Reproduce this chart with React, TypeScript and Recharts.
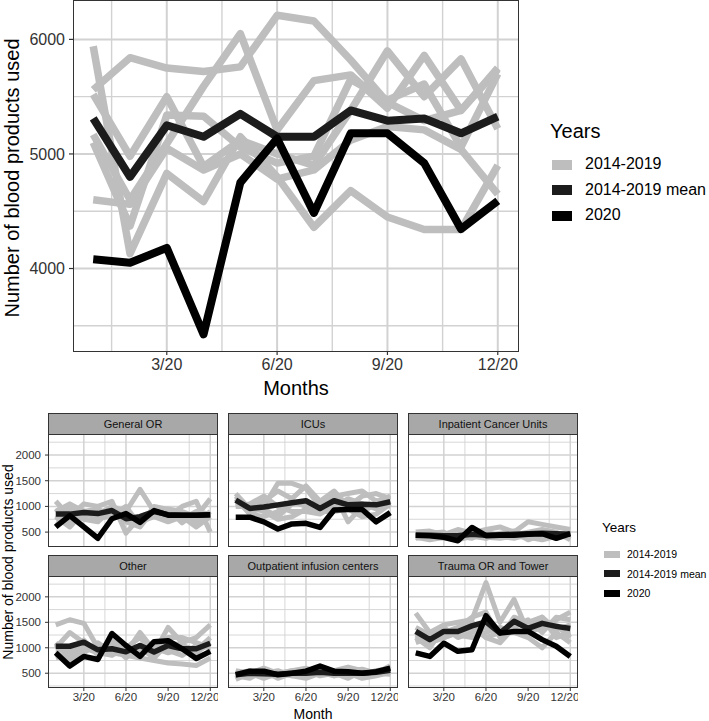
import { LineChart, Line, XAxis, YAxis, CartesianGrid } from "recharts";

// months of 2020 (x positions) and axis ticks
const months = [1, 2, 3, 4, 5, 6, 7, 8, 9, 10, 11, 12];
const monthTicks = [3, 6, 9, 12];
const minorMonthTicks = [1.5, 4.5, 7.5, 10.5];
const pastYears = ["2014", "2015", "2016", "2017", "2018", "2019"];
const legendLabels = ["2014-2019", "2014-2019 mean", "2020"];

// ---- top panel: all locations ----
const total2014 = [5940, 4130, 4830, 4585, 5150, 4800, 4360, 4680, 4450, 4340, 4340, 4900];
const total2015 = [5560, 5840, 5750, 5720, 5760, 6210, 6160, 5820, 5450, 5290, 5380, 5740];
const total2016 = [5520, 4980, 5500, 4890, 5120, 5000, 4900, 5380, 5900, 5500, 5830, 5220];
const total2017 = [5170, 4600, 5090, 5590, 6050, 5210, 5640, 5690, 5400, 5860, 5380, 5750];
const total2018 = [5100, 4370, 5340, 5330, 5060, 4920, 4980, 5650, 5470, 5610, 5060, 5700];
const total2019 = [4600, 4560, 5050, 4860, 5000, 4780, 4860, 5120, 5240, 5210, 5040, 4650];
const totalMean = [5310, 4800, 5250, 5150, 5350, 5150, 5150, 5380, 5290, 5310, 5180, 5325];
const total2020 = [4080, 4050, 4180, 3425, 4750, 5135, 4485, 5180, 5180, 4920, 4345, 4590];
const totalYTicks = [4000, 5000, 6000];
const totalYMinor = [3500, 4500, 5500];

// ---- facets ----
const generalORYears = [
  [1100, 800, 1050, 1000, 1100, 480, 800, 900, 950, 900, 800, 1150],
  [900, 1050, 900, 850, 1000, 900, 1330, 900, 800, 1000, 1100, 500],
  [800, 600, 900, 950, 800, 800, 750, 850, 900, 750, 900, 850],
  [750, 900, 750, 700, 950, 700, 600, 950, 750, 850, 700, 900],
  [950, 700, 800, 900, 850, 750, 700, 800, 700, 800, 600, 800],
  [600, 1000, 880, 760, 820, 1000, 620, 1000, 940, 680, 880, 840],
];
const generalORMean = [850, 850, 880, 860, 920, 760, 800, 900, 840, 830, 830, 840];
const generalOR2020 = [600, 820, 600, 380, 760, 860, 690, 920, 830, 830, 830, 840];

const icuYears = [
  [1250, 950, 1000, 1450, 1450, 1350, 1000, 1200, 1250, 1300, 1100, 1200],
  [1100, 1000, 1100, 1300, 1150, 1400, 1100, 1300, 1000, 1200, 1250, 1150],
  [1200, 900, 950, 800, 1050, 1050, 900, 1050, 1100, 900, 1050, 1000],
  [1000, 1050, 1200, 1000, 900, 900, 850, 1000, 1150, 1050, 950, 1100],
  [1150, 850, 800, 900, 1100, 1000, 1050, 1250, 700, 1000, 1000, 1050],
  [1000, 1000, 900, 750, 800, 950, 900, 900, 950, 800, 850, 1050],
];
const icuMean = [1120, 960, 990, 1030, 1070, 1110, 960, 1110, 1030, 1040, 1030, 1090];
const icu2020 = [790, 790, 700, 560, 660, 670, 590, 930, 940, 940, 700, 880];

const cancerYears = [
  [500, 520, 450, 550, 480, 550, 600, 500, 700, 650, 600, 550],
  [400, 350, 400, 450, 500, 450, 400, 450, 500, 550, 500, 350],
  [450, 480, 500, 350, 420, 380, 480, 520, 420, 400, 450, 500],
  [380, 420, 380, 420, 380, 500, 420, 380, 450, 480, 400, 420],
  [480, 400, 420, 400, 450, 400, 380, 420, 400, 350, 420, 450],
  [420, 460, 450, 420, 500, 380, 450, 500, 350, 450, 450, 480],
];
const cancerMean = [440, 440, 430, 430, 460, 440, 450, 460, 470, 480, 470, 460];
const cancer2020 = [440, 430, 400, 330, 590, 430, 440, 440, 460, 470, 380, 470];

const otherYears = [
  [1450, 1550, 1480, 1000, 900, 850, 800, 750, 700, 680, 650, 800],
  [1100, 800, 1000, 900, 850, 1000, 1200, 900, 1400, 1100, 1200, 1450],
  [1000, 1300, 1100, 950, 1050, 800, 1050, 1000, 900, 1000, 900, 1100],
  [800, 900, 1150, 850, 1000, 950, 900, 1100, 950, 850, 1050, 1000],
  [900, 700, 900, 1100, 900, 1050, 1000, 800, 1100, 1050, 950, 1200],
  [950, 950, 1000, 950, 1150, 900, 1300, 950, 1200, 1200, 1100, 1000],
];
const otherMean = [1030, 1030, 1110, 960, 980, 920, 1045, 915, 1045, 980, 980, 1090];
const other2020 = [900, 640, 830, 770, 1280, 1045, 830, 1120, 1140, 980, 790, 930];

const infusionYears = [
  [550, 500, 600, 500, 550, 600, 500, 550, 620, 550, 500, 650],
  [400, 550, 450, 450, 500, 450, 550, 500, 450, 480, 550, 550],
  [500, 450, 500, 550, 450, 500, 600, 450, 500, 450, 550, 600],
  [450, 400, 550, 400, 500, 550, 450, 500, 400, 550, 500, 500],
  [380, 500, 400, 500, 450, 400, 500, 550, 500, 400, 450, 520],
  [500, 550, 450, 480, 550, 500, 520, 450, 550, 580, 500, 480],
];
const infusionMean = [470, 500, 490, 480, 500, 500, 520, 500, 500, 500, 520, 560];
const infusion2020 = [470, 540, 540, 470, 500, 540, 640, 540, 530, 500, 530, 600];

const traumaYears = [
  [1680, 1300, 1450, 1500, 1550, 2280, 1500, 1950, 1300, 1400, 1550, 1700],
  [1400, 1250, 1300, 1400, 1600, 1700, 1200, 1600, 1500, 1600, 1350, 1450],
  [1200, 1000, 1400, 1200, 1300, 1400, 1300, 1500, 1400, 1500, 1450, 1200],
  [1300, 1100, 1200, 1300, 1500, 1200, 1100, 1400, 1550, 1300, 1600, 1550],
  [1100, 1200, 1350, 1250, 1200, 1300, 1400, 1300, 1200, 1000, 1300, 1100],
  [1250, 1100, 1200, 1300, 1400, 1200, 1300, 1350, 1300, 1600, 1200, 1300],
];
const traumaMean = [1320, 1160, 1320, 1320, 1430, 1510, 1290, 1520, 1380, 1480, 1420, 1380];
const trauma2020 = [900, 830, 1090, 930, 960, 1630, 1290, 1320, 1320, 1160, 1030, 830];

const facetYTicks = [500, 1000, 1500, 2000];
const facetYMinor = [250, 750, 1250, 1750, 2250];

const GREY = "#bebebe";
const MEAN = "#1c1c1c";
const BLACK = "#000000";
const GRID = "#d2d2d2";
const FONT = '"Liberation Sans", Arial, sans-serif';

const buildRows = (years: number[][], mean: number[], v2020: number[]) =>
  months.map((m, i) => {
    const row: Record<string, number> = { m, mean: mean[i], y2020: v2020[i] };
    pastYears.forEach((y, j) => (row["y" + y] = years[j][i]));
    return row;
  });

const fmtMonth = (m: number) => `${m}/20`;

// grey years first, then the mean, then 2020 on top
function seriesLines(width: number, greyWidth: number) {
  return [
    ...pastYears.map((y) => (
      <Line
        key={y}
        type="linear"
        dataKey={"y" + y}
        stroke={GREY}
        strokeWidth={greyWidth}
        strokeLinejoin="round"
        dot={false}
        activeDot={false}
        isAnimationActive={false}
      />
    )),
    <Line
      key="mean"
      type="linear"
      dataKey="mean"
      stroke={MEAN}
      strokeWidth={width}
      strokeLinejoin="round"
      dot={false}
      activeDot={false}
      isAnimationActive={false}
    />,
    <Line
      key="y2020"
      type="linear"
      dataKey="y2020"
      stroke={BLACK}
      strokeWidth={width}
      strokeLinejoin="round"
      dot={false}
      activeDot={false}
      isAnimationActive={false}
    />,
  ];
}

interface FacetProps {
  title: string;
  years: number[][];
  mean: number[];
  v2020: number[];
  left: number;
  top: number;
  panelH: number;
  showY: boolean;
  showX: boolean;
}

const PANEL_W = 170;
const STRIP_H = 22;
const Y_W = 48;

function Facet({ title, years, mean, v2020, left, top, panelH, showY, showX }: FacetProps) {
  const data = buildRows(years, mean, v2020);
  const yw = showY ? Y_W : 0;
  return (
    <>
      <div
        style={{
          position: "absolute",
          left,
          top,
          width: PANEL_W,
          height: STRIP_H,
          boxSizing: "border-box",
          border: "1px solid #333",
          background: "#a8a8a8",
          fontSize: 11,
          color: "#111",
          textAlign: "center",
          lineHeight: STRIP_H - 2 + "px",
        }}
      >
        {title}
      </div>
      <div style={{ position: "absolute", left: left - yw, top: top + STRIP_H }}>
        <LineChart
          width={PANEL_W + yw}
          height={panelH + (showX ? 24 : 0)}
          data={data}
          margin={{ top: 0, right: 0, bottom: 0, left: 0 }}
        >
          <CartesianGrid stroke={GRID} strokeWidth={0.9} horizontalValues={facetYMinor} verticalValues={minorMonthTicks} />
          <CartesianGrid stroke={GRID} strokeWidth={1.5} horizontalValues={facetYTicks} verticalValues={monthTicks} />
          <XAxis
            dataKey="m"
            type="number"
            domain={[0.45, 12.55]}
            ticks={monthTicks}
            tickFormatter={fmtMonth}
            allowDataOverflow
            hide={!showX}
            height={24}
            axisLine={false}
            tickSize={3}
            tickMargin={2}
            tickLine={{ stroke: "#333" }}
            tick={{ fontSize: 11.5, fill: "#333" }}
          />
          <YAxis
            type="number"
            domain={[210, 2390]}
            ticks={facetYTicks}
            allowDataOverflow
            hide={!showY}
            width={Y_W}
            axisLine={false}
            tickSize={3}
            tickMargin={4}
            tickLine={{ stroke: "#333" }}
            tick={{ fontSize: 11.5, fill: "#333" }}
          />
          {seriesLines(5.5, 5)}
        </LineChart>
      </div>
      <div
        style={{
          position: "absolute",
          left,
          top: top + STRIP_H - 1,
          width: PANEL_W,
          height: panelH + 1,
          boxSizing: "border-box",
          border: "1px solid #333",
          pointerEvents: "none",
        }}
      />
    </>
  );
}

function LegendBlock({
  left,
  top,
  titleSize,
  labelSize,
  keyW,
  keyH,
  gap,
  textLeft,
}: {
  left: number;
  top: number;
  titleSize: number;
  labelSize: number;
  keyW: number;
  keyH: number;
  gap: number;
  textLeft: number;
}) {
  const colors = [GREY, MEAN, BLACK];
  return (
    <div style={{ position: "absolute", left, top }}>
      <div style={{ position: "absolute", left: 0, top: -titleSize / 2 - 3, fontSize: titleSize, color: "#000", whiteSpace: "nowrap" }}>
        Years
      </div>
      {legendLabels.map((l, i) => (
        <div key={l}>
          <div
            style={{
              position: "absolute",
              left: 2,
              top: gap * (i + 1.25) - keyH / 2,
              width: keyW,
              height: keyH,
              background: colors[i],
            }}
          />
          <div
            style={{
              position: "absolute",
              left: textLeft,
              top: gap * (i + 1.25) - labelSize * 0.6,
              fontSize: labelSize,
              color: "#000",
              whiteSpace: "nowrap",
            }}
          >
            {l}
          </div>
        </div>
      ))}
    </div>
  );
}

export default function App() {
  const totalData = buildRows(
    [total2014, total2015, total2016, total2017, total2018, total2019],
    totalMean,
    total2020
  );
  return (
    <div
      style={{
        position: "absolute",
        left: 0,
        top: 0,
        width: 709,
        height: 721,
        background: "#fff",
        fontFamily: FONT,
        overflow: "hidden",
      }}
    >
      {/* top panel */}
      <div style={{ position: "absolute", left: 0, top: 0 }}>
        <LineChart width={520} height={400} data={totalData} margin={{ top: 1, right: 2, bottom: 0, left: 0 }}>
          <CartesianGrid stroke={GRID} strokeWidth={1.4} horizontalValues={totalYMinor} verticalValues={minorMonthTicks} />
          <CartesianGrid stroke={GRID} strokeWidth={2} horizontalValues={totalYTicks} verticalValues={monthTicks} />
          <XAxis
            dataKey="m"
            type="number"
            domain={[0.45, 12.55]}
            ticks={monthTicks}
            tickFormatter={fmtMonth}
            allowDataOverflow
            height={49}
            axisLine={false}
            tickSize={4}
            tickMargin={4}
            tickLine={{ stroke: "#333", strokeWidth: 1.2 }}
            tick={{ fontSize: 16, fill: "#333" }}
          />
          <YAxis
            type="number"
            domain={[3280, 6335]}
            ticks={totalYTicks}
            allowDataOverflow
            width={73}
            axisLine={false}
            tickSize={4}
            tickMargin={4}
            tickLine={{ stroke: "#333", strokeWidth: 1.2 }}
            tick={{ fontSize: 16, fill: "#333" }}
          />
          {seriesLines(8, 7.5)}
        </LineChart>
      </div>
      <div
        style={{
          position: "absolute",
          left: 73,
          top: 0,
          width: 446,
          height: 352,
          boxSizing: "border-box",
          border: "1.3px solid #333",
          pointerEvents: "none",
        }}
      />
      <div
        style={{
          position: "absolute",
          left: 12,
          top: 178,
          transform: "translate(-50%, -50%) rotate(-90deg)",
          fontSize: 20,
          whiteSpace: "nowrap",
          color: "#000",
        }}
      >
        Number of blood products used
      </div>
      <div
        style={{
          position: "absolute",
          left: 296,
          top: 388,
          transform: "translate(-50%, -50%)",
          fontSize: 20,
          whiteSpace: "nowrap",
          color: "#000",
        }}
      >
        Months
      </div>
      <LegendBlock left={550} top={133} titleSize={20} labelSize={16} keyW={20} keyH={10} gap={25.5} textLeft={35} />

      {/* facets */}
      <Facet title="General OR" years={generalORYears} mean={generalORMean} v2020={generalOR2020} left={48} top={413} panelH={112} showY showX={false} />
      <Facet title="ICUs" years={icuYears} mean={icuMean} v2020={icu2020} left={228} top={413} panelH={112} showY={false} showX={false} />
      <Facet title="Inpatient Cancer Units" years={cancerYears} mean={cancerMean} v2020={cancer2020} left={408} top={413} panelH={112} showY={false} showX={false} />
      <Facet title="Other" years={otherYears} mean={otherMean} v2020={other2020} left={48} top={555} panelH={111} showY showX />
      <Facet title="Outpatient infusion centers" years={infusionYears} mean={infusionMean} v2020={infusion2020} left={228} top={555} panelH={111} showY={false} showX />
      <Facet title="Trauma OR and Tower" years={traumaYears} mean={traumaMean} v2020={trauma2020} left={408} top={555} panelH={111} showY={false} showX />

      <div
        style={{
          position: "absolute",
          left: 8,
          top: 562,
          transform: "translate(-50%, -50%) rotate(-90deg)",
          fontSize: 14,
          whiteSpace: "nowrap",
          color: "#000",
        }}
      >
        Number of blood products used
      </div>
      <div
        style={{
          position: "absolute",
          left: 313,
          top: 714,
          transform: "translate(-50%, -50%)",
          fontSize: 14,
          whiteSpace: "nowrap",
          color: "#000",
        }}
      >
        Month
      </div>
      <LegendBlock left={602} top={530} titleSize={13.5} labelSize={10.5} keyW={16} keyH={7} gap={19.5} textLeft={25} />
    </div>
  );
}
